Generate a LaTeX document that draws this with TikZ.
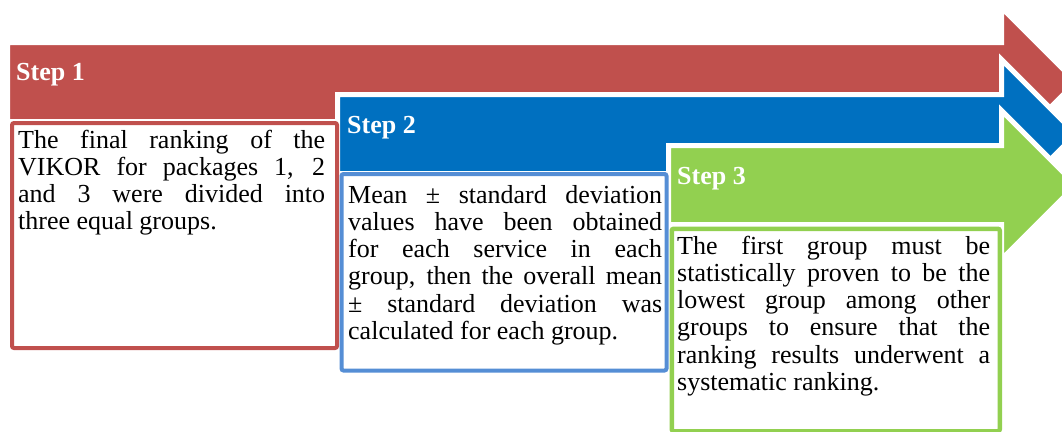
\documentclass[tikz,border=0pt]{standalone}
\usepackage{fontspec}
\setmainfont{Liberation Serif}
\definecolor{stepred}{HTML}{C0504D}
\definecolor{stepblue}{HTML}{0070C0}
\definecolor{stepgreen}{HTML}{92D050}
\definecolor{boxblue}{HTML}{558ED5}
% one justified line of a text block, and the ragged final line
\newcommand{\justln}[2]{\hbox to #1{#2}}
\newcommand{\lastln}[1]{\hbox{#1}}
\newcommand{\bodyfont}{\fontsize{26}{27.3}\selectfont}
\tikzset{
  steparrow/.style={draw=white, line width=5pt, line join=miter},
  textbox/.style={draw, fill=white, line width=4pt, rounded corners=2pt,
    inner sep=0pt, anchor=north west},
  steplabel/.style={anchor=base west, inner sep=0pt, text=white,
    font=\fontsize{26}{28}\selectfont\bfseries},
  bodytext/.style={anchor=base west, inner sep=0pt, font=\bodyfont}
}
\begin{document}
\begin{tikzpicture}[x=1pt,y=-1pt]
\useasboundingbox (0,0) rectangle (1062,431);
\clip (0,0) rectangle (1062,431);

% block arrows: body from x0, centre line c
\newcommand{\steparrowpath}[3]{%
  \filldraw[steparrow, fill=#3]
    (#1-2.5,#2-39.5) -- (1001.5,#2-39.5) -- (1001.5,#2-74.5)
    -- (1076,#2) -- (1001.5,#2+74.5) -- (1001.5,#2+39.5)
    -- (#1-2.5,#2+39.5) -- cycle;}

\steparrowpath{10}{82}{stepred}
\steparrowpath{340}{134}{stepblue}
\node[textbox, draw=stepred, minimum width=325pt, minimum height=225pt]
  (box1) at (10,121) {};
\steparrowpath{671}{185}{stepgreen}
\node[textbox, draw=boxblue, minimum width=325pt, minimum height=196.5pt]
  (box2) at (339.5,172) {};
\node[textbox, draw=stepgreen, line width=4.5pt, minimum width=328pt, minimum height=202.5pt]
  (box3) at (669.5,226.5) {};

\node[steplabel] (s1) at (16,80) {Step 1};
\node[steplabel] (s2) at (347,133) {Step 2};
\node[steplabel] (s3) at (677,184) {Step 3};

\node[bodytext] (t1) at (18,148) {\vtop{%
  \justln{307pt}{The final ranking of the}
  \justln{307pt}{VIKOR for packages 1, 2}
  \justln{307pt}{and 3 were divided into}
  \lastln{three equal groups.}}};

\node[bodytext] (t2) at (348,203) {\vtop{%
  \justln{314pt}{Mean ± standard deviation}
  \justln{314pt}{values have been obtained}
  \justln{314pt}{for each service in each}
  \justln{314pt}{group, then the overall mean}
  \justln{314pt}{± standard deviation was}
  \lastln{calculated for each group.}}};

\node[bodytext] (t3) at (677,254) {\vtop{%
  \justln{313pt}{The first group must be}
  \justln{313pt}{statistically proven to be the}
  \justln{313pt}{lowest group among other}
  \justln{313pt}{groups to ensure that the}
  \justln{313pt}{ranking results underwent a}
  \lastln{systematic ranking.}}};
\end{tikzpicture}
\end{document}
